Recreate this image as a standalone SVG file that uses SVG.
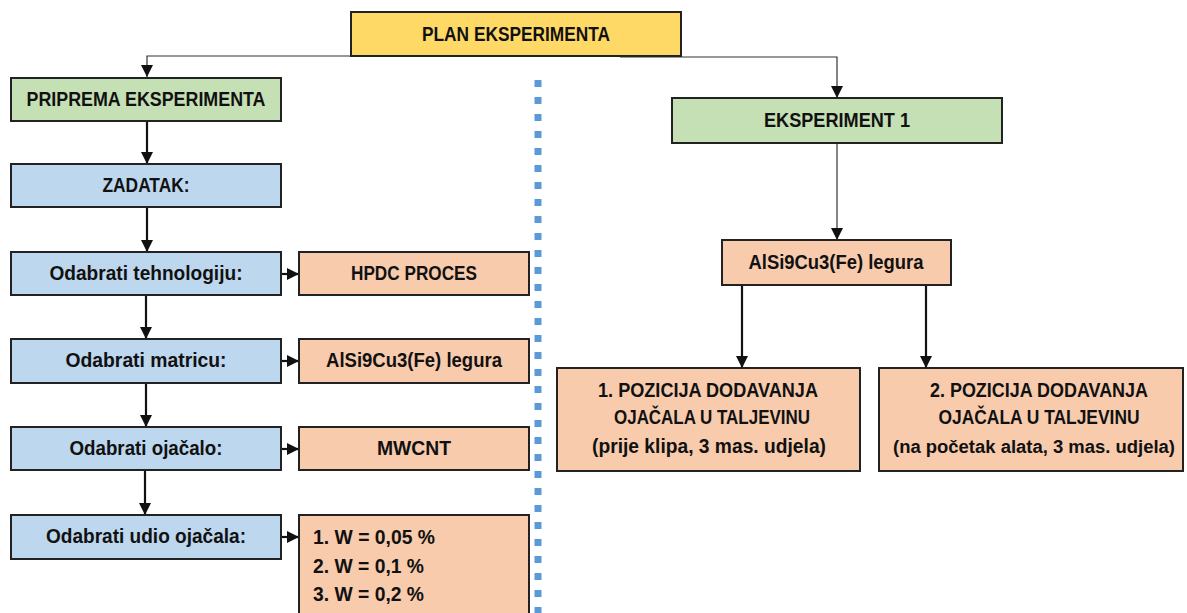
<svg xmlns="http://www.w3.org/2000/svg" width="1187" height="613" viewBox="0 0 1187 613">
<style>
.box{stroke:#222;stroke-width:2}
.y{fill:#FFD966}.g{fill:#C5E0B4}.b{fill:#BDD7EE}.o{fill:#F8CBAD}
text{font-family:"Liberation Sans",Arial,sans-serif;font-weight:bold;font-size:20px;fill:#111}
.c{text-anchor:middle}
.sm{font-size:17.5px}
.thin{stroke:#333;stroke-width:1.2;fill:none}
.thick{stroke:#111;stroke-width:2.2;fill:none}
</style>
<defs>
<marker id="aw" viewBox="0 0 10 10" refX="10" refY="5" markerWidth="12" markerHeight="12" markerUnits="userSpaceOnUse" orient="auto"><path d="M0,0 L10,5 L0,10 z" fill="#111"/></marker>
</defs>
<rect width="1187" height="613" fill="#fff"/>
<g id="connectors">
<path class="thin" d="M351,56 H147 V77" marker-end="url(#aw)"/>
<path class="thin" d="M620,57 H837 V98" marker-end="url(#aw)"/>
<path class="thin" d="M837,143 V240" marker-end="url(#aw)"/>
<path class="thick" d="M147,121 V164" marker-end="url(#aw)"/>
<path class="thick" d="M147,207 V252" marker-end="url(#aw)"/>
<path class="thick" d="M146,295 V339" marker-end="url(#aw)"/>
<path class="thick" d="M146,383 V427" marker-end="url(#aw)"/>
<path class="thick" d="M145,470 V515" marker-end="url(#aw)"/>
<path class="thick" d="M282,274 H299" marker-end="url(#aw)"/>
<path class="thick" d="M282,361 H299" marker-end="url(#aw)"/>
<path class="thick" d="M282,449 H299" marker-end="url(#aw)"/>
<path class="thick" d="M282,537 H299" marker-end="url(#aw)"/>
<path class="thick" d="M742,285 V368" marker-end="url(#aw)"/>
<path class="thick" d="M926,285 V368" marker-end="url(#aw)"/>
</g>
<line id="divider" x1="538" y1="80" x2="538" y2="613" stroke="#5B9BD5" stroke-width="7" stroke-dasharray="7 10"/>
<g id="plan"><rect class="box y" x="351" y="12" width="330" height="44"/><text class="c" x="516" y="41" textLength="188" lengthAdjust="spacingAndGlyphs">PLAN EKSPERIMENTA</text></g>
<g id="priprema"><rect class="box g" x="11" y="78" width="270" height="43"/><text class="c" x="146" y="106" textLength="239" lengthAdjust="spacingAndGlyphs">PRIPREMA EKSPERIMENTA</text></g>
<g id="zadatak"><rect class="box b" x="11" y="164" width="270" height="43"/><text class="c" x="146" y="192" textLength="87" lengthAdjust="spacingAndGlyphs">ZADATAK:</text></g>
<g id="tehnologija"><rect class="box b" x="11" y="252" width="270" height="43"/><text class="c" x="146" y="280" textLength="193" lengthAdjust="spacingAndGlyphs">Odabrati tehnologiju:</text></g>
<g id="hpdc"><rect class="box o" x="299" y="252" width="230" height="43"/><text class="c" x="414" y="280" textLength="126" lengthAdjust="spacingAndGlyphs">HPDC PROCES</text></g>
<g id="matrica"><rect class="box b" x="11" y="339" width="270" height="44"/><text class="c" x="146" y="367" textLength="161" lengthAdjust="spacingAndGlyphs">Odabrati matricu:</text></g>
<g id="legura1"><rect class="box o" x="299" y="339" width="230" height="44"/><text class="c" x="414" y="367" textLength="176" lengthAdjust="spacingAndGlyphs">AlSi9Cu3(Fe) legura</text></g>
<g id="ojacalo"><rect class="box b" x="11" y="427" width="270" height="43"/><text class="c" x="146" y="455" textLength="153" lengthAdjust="spacingAndGlyphs">Odabrati ojačalo:</text></g>
<g id="mwcnt"><rect class="box o" x="299" y="427" width="230" height="43"/><text class="c" x="414" y="455" textLength="74" lengthAdjust="spacingAndGlyphs">MWCNT</text></g>
<g id="udio"><rect class="box b" x="11" y="515" width="270" height="44"/><text class="c" x="146" y="543" textLength="200" lengthAdjust="spacingAndGlyphs">Odabrati udio ojačala:</text></g>
<g id="udioVrijednosti"><rect class="box o" x="299" y="515" width="230" height="110"/>
<text x="313" y="544" textLength="122" lengthAdjust="spacingAndGlyphs">1. W = 0,05 %</text>
<text x="313" y="573" textLength="111" lengthAdjust="spacingAndGlyphs">2. W = 0,1 %</text>
<text x="313" y="601" textLength="111" lengthAdjust="spacingAndGlyphs">3. W = 0,2 %</text></g>
<g id="eksperiment1"><rect class="box g" x="672" y="98" width="330" height="45"/><text class="c" x="837" y="127" textLength="146" lengthAdjust="spacingAndGlyphs">EKSPERIMENT 1</text></g>
<g id="legura2"><rect class="box o" x="722" y="240" width="229" height="45"/><text class="c" x="836" y="269" textLength="175" lengthAdjust="spacingAndGlyphs">AlSi9Cu3(Fe) legura</text></g>
<g id="pozicija1"><rect class="box o" x="557" y="368" width="303" height="103"/>
<text class="c" x="708" y="397" textLength="220" lengthAdjust="spacingAndGlyphs">1. POZICIJA DODAVANJA</text>
<text class="c" x="712" y="424" textLength="196" lengthAdjust="spacingAndGlyphs">OJAČALA U TALJEVINU</text>
<text class="c" x="709" y="453" textLength="234" lengthAdjust="spacingAndGlyphs">(prije klipa, 3 mas. udjela)</text></g>
<g id="pozicija2"><rect class="box o" x="879" y="368" width="304" height="103"/>
<text class="c" x="1039" y="397" textLength="218" lengthAdjust="spacingAndGlyphs">2. POZICIJA DODAVANJA</text>
<text class="c" x="1039" y="424" textLength="201" lengthAdjust="spacingAndGlyphs">OJAČALA U TALJEVINU</text>
<text class="c sm" x="1034" y="453" textLength="282" lengthAdjust="spacingAndGlyphs">(na početak alata, 3 mas. udjela)</text></g>
</svg>
